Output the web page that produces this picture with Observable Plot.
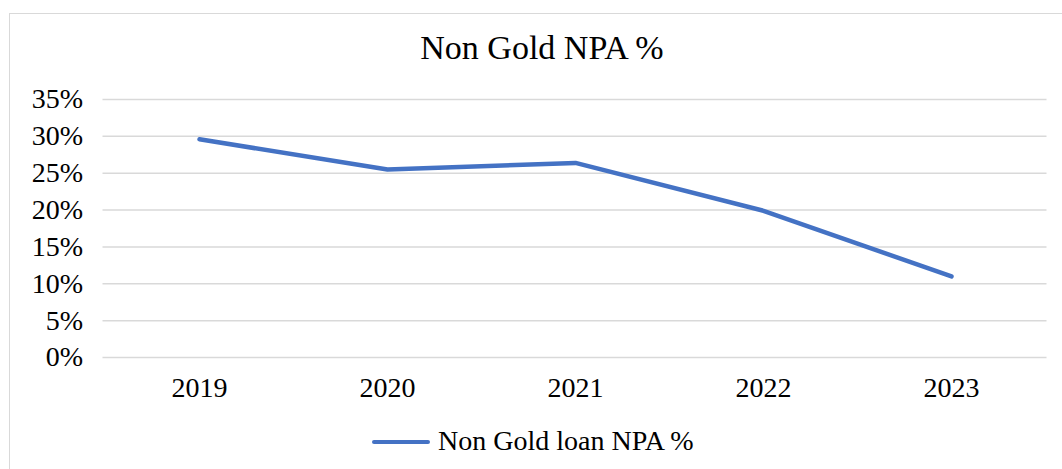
<!DOCTYPE html>
<html>
<head>
<meta charset="utf-8">
<script src="https://cdn.jsdelivr.net/npm/d3@7"></script>
<script src="https://cdn.jsdelivr.net/npm/@observablehq/plot@0.6"></script>
<style>
  html, body { margin: 0; padding: 0; background: #fff; }
  #wrap { position: relative; width: 1062px; height: 469px; overflow: hidden; font-family: "Liberation Serif", "Times New Roman", serif; color: #000; }
  #frame { position: absolute; left: 9px; top: 13px; width: 1066px; height: 500px; border: 1.5px solid #d9d9d9; box-sizing: border-box; }
  #title { position: absolute; left: 0; width: 1084px; top: 31px; text-align: center; font-size: 34px; line-height: 34px; white-space: nowrap; }
  #chart { position: absolute; left: 0; top: 80px; }
  #legend-swatch { position: absolute; left: 372px; top: 440px; width: 58px; height: 4px; background: #4472C4; border-radius: 2px; }
  #legend-text { position: absolute; left: 438px; top: 426.5px; font-size: 28px; line-height: 28px; white-space: nowrap; }
</style>
</head>
<body>
<div id="wrap">
  <div id="frame"></div>
  <div id="title">Non Gold NPA %</div>
  <div id="chart"></div>
  <div id="legend-swatch"></div>
  <div id="legend-text">Non Gold loan NPA %</div>
</div>
<script>
const years = ["2019", "2020", "2021", "2022", "2023"];
const npaValues = [29.6, 25.5, 26.4, 19.9, 11.0];
const yTicks = [0, 5, 10, 15, 20, 25, 30, 35];
const seriesName = "Non Gold loan NPA %";

const data = years.map((y, i) => ({year: y, value: npaValues[i], series: seriesName}));

const plot = Plot.plot({
  width: 1062,
  height: 330,
  marginTop: 19,
  marginBottom: 53,
  marginLeft: 102.5,
  marginRight: 15.5,
  style: {fontFamily: "'Liberation Serif', 'Times New Roman', serif", fontSize: "28px", color: "#000", background: "transparent", overflow: "visible"},
  x: {type: "point", domain: years, padding: 0.5, label: null},
  y: {domain: [0, 35], label: null},
  marks: [
    Plot.ruleY(yTicks, {stroke: "#d9d9d9", strokeWidth: 1.5}),
    Plot.axisY({ticks: yTicks, tickSize: 0, tickPadding: 20, tickFormat: d => d + "%", fill: "#000", label: null}),
    Plot.axisX({tickSize: 0, tickPadding: 20, fill: "#000", label: null}),
    Plot.line(data, {x: "year", y: "value", stroke: "#4472C4", strokeWidth: 4.5, strokeLinejoin: "round", strokeLinecap: "round"})
  ]
});
document.getElementById("chart").appendChild(plot);
</script>
</body>
</html>
